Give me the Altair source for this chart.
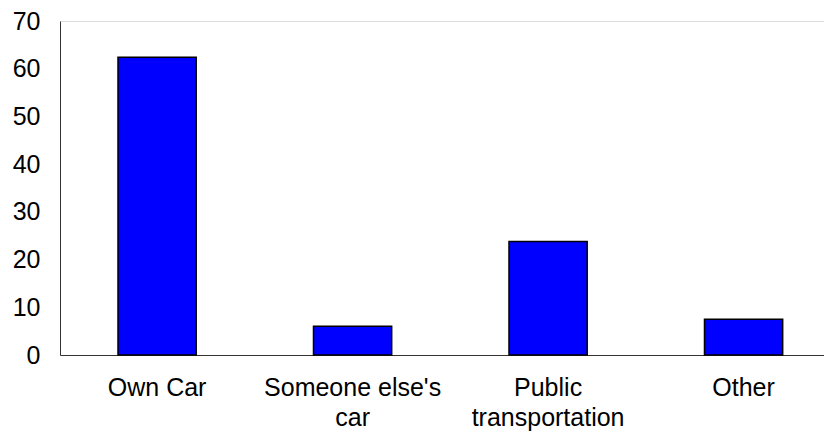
import json
import altair as alt
import pandas as pd

categories = ["Own Car", "Someone else's car", "Public transportation", "Other"]
values = [62.4, 6.0, 23.8, 7.5]
label_lines = {
    "Someone else's car": ["Someone else's", "car"],
    "Public transportation": ["Public", "transportation"],
}
y_ticks = [0, 10, 20, 30, 40, 50, 60, 70]

df = pd.DataFrame({"mode": categories, "value": values})

label_expr = f"{json.dumps(label_lines)}[datum.label] || datum.label"

FONT = "Liberation Sans"

chart = alt.Chart(df).mark_bar(
    color="#0000FF", stroke="#000000", strokeWidth=1.5
).encode(
    x=alt.X(
        "mode:N",
        sort=categories,
        title=None,
        scale=alt.Scale(paddingInner=0.6, paddingOuter=0.254, align=0.584),
        axis=alt.Axis(
            labelAngle=0,
            ticks=False,
            labelPadding=20,
            labelExpr=label_expr,
            labelLineHeight=30,
            labelFontSize=25,
            labelFont=FONT,
            labelColor="#000000",
            domainColor="#333333",
            domainWidth=1,
            labelLimit=400,
        ),
    ),
    y=alt.Y(
        "value:Q",
        title=None,
        scale=alt.Scale(domain=[0, 70], nice=False),
        axis=alt.Axis(
            values=y_ticks,
            ticks=False,
            grid=False,
            labelPadding=20,
            labelFontSize=25,
            labelFont=FONT,
            labelColor="#000000",
            domainColor="#333333",
            domainWidth=1,
        ),
    ),
).properties(
    width=764,
    height=334,
    autosize=alt.AutoSizeParams(type="none"),
    padding={"left": 52, "top": 13, "right": 0, "bottom": 76},
).configure_view(stroke=None).configure(background="white")

chart.save("out.html", embed_options={"renderer": "svg", "actions": False})
